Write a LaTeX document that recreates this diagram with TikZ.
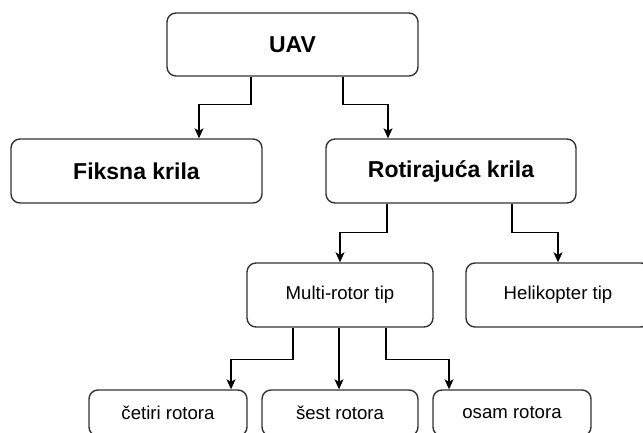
\documentclass[tikz,border=0pt]{standalone}
\usepackage{fontspec}
\setmainfont{Liberation Sans}
\usetikzlibrary{arrows.meta}
\begin{document}
\begin{tikzpicture}[x=1pt,y=-1pt,
  box/.style={draw=black!80, line width=1.4pt, rounded corners=9pt, fill=white, inner sep=0pt, align=center},
  bigbox/.style={box, font=\fontsize{23}{27}\selectfont\bfseries},
  smallbox/.style={box, font=\fontsize{18.6}{22}\selectfont},
  arr/.style={draw=black, line width=1.2pt, -{Stealth[length=10pt,width=9pt,inset=2.5pt]}}]
\useasboundingbox (0,0) rectangle (643,432);
\clip (0,0) rectangle (643,432);
\node[bigbox, minimum width=251pt, minimum height=63pt] (uav) at (292.5,44.5) {UAV};
\node[bigbox, minimum width=251pt, minimum height=64pt] (fix) at (136.5,171) {Fiksna krila};
\node[bigbox, minimum width=250pt, minimum height=64pt] (rot) at (451,171) {Rotirajuća krila};
\node[smallbox, minimum width=186pt, minimum height=64pt] (multi) at (340,295) {Multi-rotor tip};
\node[smallbox, minimum width=184pt, minimum height=64pt] (heli) at (558,295) {Helikopter tip};
\node[smallbox, minimum width=158pt, minimum height=46pt] (cet) at (168,413) {četiri rotora};
\node[smallbox, minimum width=156pt, minimum height=46pt] (sest) at (340,413) {šest rotora};
\node[smallbox, minimum width=158pt, minimum height=46pt] (osam) at (512,413) {osam rotora};
\draw[arr] ([xshift=-41.5pt]uav.south) -- ++(0,28) -| ([xshift=62.5pt]fix.north);
\draw[arr] ([xshift=50.5pt]uav.south) -- ++(0,28) -| ([xshift=-63pt]rot.north);
\draw[arr] ([xshift=-64pt]rot.south) -- ++(0,29) -| (multi.north);
\draw[arr] ([xshift=61pt]rot.south) -- ++(0,29) -| (heli.north);
\draw[arr] ([xshift=-47pt]multi.south) -- ++(0,32) -| ([xshift=63pt]cet.north);
\draw[arr] ([xshift=-1pt]multi.south) -- ([xshift=-1pt]sest.north);
\draw[arr] ([xshift=46pt]multi.south) -- ++(0,32) -| ([xshift=-63pt]osam.north);
\end{tikzpicture}
\end{document}
